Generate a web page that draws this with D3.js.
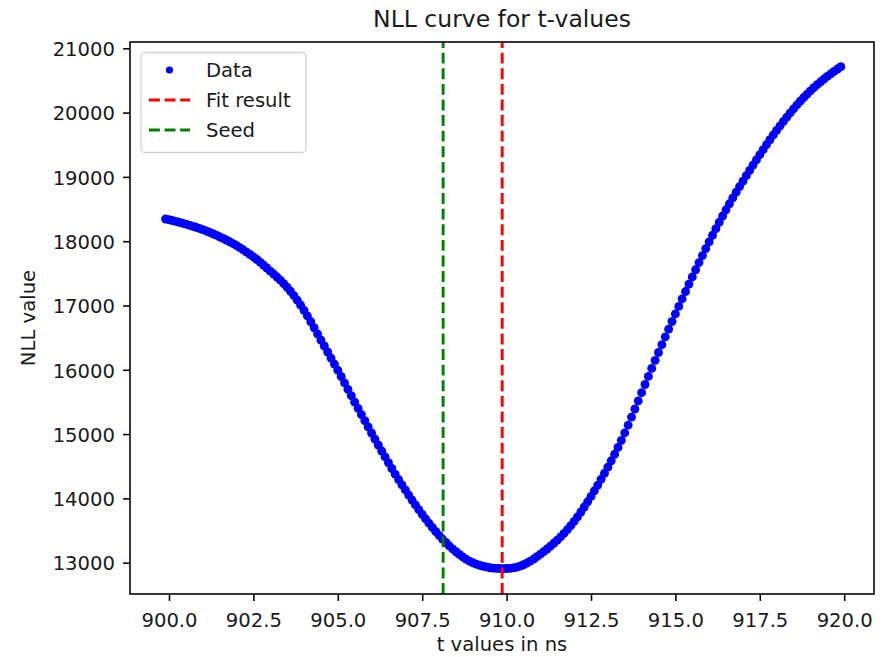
<!DOCTYPE html>
<html>
<head>
<meta charset="utf-8">
<script src="https://cdn.jsdelivr.net/npm/d3@7/dist/d3.min.js"></script>
<style>
  html, body { margin: 0; padding: 0; background: #ffffff; }
  svg { display: block; }
  text { font-family: "DejaVu Sans", sans-serif; fill: #1a1a1a; }
</style>
</head>
<body>
<svg id="chart" width="887" height="657"></svg>
<script>
// ---------------- data ----------------
const tValues = [
  899.9, 900.0, 900.1, 900.2, 900.3, 900.4, 900.5, 900.6, 900.7, 900.8, 900.9,
  901.0, 901.1, 901.2, 901.3, 901.4, 901.5, 901.6, 901.7, 901.8, 901.9,
  902.0, 902.1, 902.2, 902.3, 902.4, 902.5, 902.6, 902.7, 902.8, 902.9,
  903.0, 903.1, 903.2, 903.3, 903.4, 903.5, 903.6, 903.7, 903.8, 903.9,
  904.0, 904.1, 904.2, 904.3, 904.4, 904.5, 904.6, 904.7, 904.8, 904.9,
  905.0, 905.1, 905.2, 905.3, 905.4, 905.5, 905.6, 905.7, 905.8, 905.9,
  906.0, 906.1, 906.2, 906.3, 906.4, 906.5, 906.6, 906.7, 906.8, 906.9,
  907.0, 907.1, 907.2, 907.3, 907.4, 907.5, 907.6, 907.7, 907.8, 907.9,
  908.0, 908.1, 908.2, 908.3, 908.4, 908.5, 908.6, 908.7, 908.8, 908.9,
  909.0, 909.1, 909.2, 909.3, 909.4, 909.5, 909.6, 909.7, 909.8, 909.9,
  910.0, 910.1, 910.2, 910.3, 910.4, 910.5, 910.6, 910.7, 910.8, 910.9,
  911.0, 911.1, 911.2, 911.3, 911.4, 911.5, 911.6, 911.7, 911.8, 911.9,
  912.0, 912.1, 912.2, 912.3, 912.4, 912.5, 912.6, 912.7, 912.8, 912.9,
  913.0, 913.1, 913.2, 913.3, 913.4, 913.5, 913.6, 913.7, 913.8, 913.9,
  914.0, 914.1, 914.2, 914.3, 914.4, 914.5, 914.6, 914.7, 914.8, 914.9,
  915.0, 915.1, 915.2, 915.3, 915.4, 915.5, 915.6, 915.7, 915.8, 915.9,
  916.0, 916.1, 916.2, 916.3, 916.4, 916.5, 916.6, 916.7, 916.8, 916.9,
  917.0, 917.1, 917.2, 917.3, 917.4, 917.5, 917.6, 917.7, 917.8, 917.9,
  918.0, 918.1, 918.2, 918.3, 918.4, 918.5, 918.6, 918.7, 918.8, 918.9,
  919.0, 919.1, 919.2, 919.3, 919.4, 919.5, 919.6, 919.7, 919.8, 919.9
];

const nllValues = [
  18345, 18333, 18321, 18308, 18294, 18280, 18265, 18249, 18233, 18216, 18198,
  18179, 18159, 18138, 18116, 18093, 18069, 18044, 18018, 17991, 17962,
  17932, 17900, 17866, 17830, 17793, 17755, 17715, 17673, 17629, 17583,
  17534, 17489, 17442, 17393, 17340, 17283, 17221, 17154, 17082, 17005,
  16923, 16837, 16747, 16654, 16559, 16463, 16370, 16277, 16183, 16089,
  15994, 15896, 15797, 15697, 15597, 15497, 15400, 15304, 15208, 15112,
  15017, 14923, 14830, 14737, 14645, 14554, 14465, 14378, 14293, 14211,
  14132, 14052, 13974, 13898, 13824, 13752, 13682, 13614, 13548, 13485,
  13425, 13368, 13314, 13263, 13215, 13170, 13128, 13089, 13055, 13025,
  12999, 12977, 12959, 12945, 12934, 12922, 12915, 12911, 12909, 12908,
  12909, 12912, 12919, 12930, 12946, 12968, 12994, 13024, 13057, 13093,
  13132, 13172, 13213, 13256, 13302, 13350, 13401, 13455, 13513, 13575,
  13641, 13713, 13788, 13866, 13947, 14031, 14118, 14207, 14298, 14391,
  14486, 14585, 14686, 14792, 14903, 15019, 15140, 15264, 15390, 15517,
  15644, 15771, 15897, 16022, 16146, 16269, 16391, 16512, 16632, 16751,
  16869, 16986, 17102, 17217, 17331, 17444, 17556, 17667, 17776, 17883,
  17988, 18092, 18194, 18294, 18392, 18488, 18582, 18673, 18762, 18849,
  18934, 19019, 19102, 19184, 19265, 19345, 19424, 19502, 19578, 19652,
  19724, 19794, 19863, 19930, 19995, 20058, 20119, 20178, 20234, 20287,
  20338, 20387, 20434, 20479, 20522, 20563, 20602, 20640, 20677, 20713
];

const fitResult = 909.87;
const seedValue = 908.12;

const xTicks = [900, 902.5, 905, 907.5, 910, 912.5, 915, 917.5, 920];
const yTicks = [13000, 14000, 15000, 16000, 17000, 18000, 19000, 20000, 21000];

const legendLabels = ["Data", "Fit result", "Seed"];
const titleText = "NLL curve for t-values";
const xLabelText = "t values in ns";
const yLabelText = "NLL value";

// ---------------- layout ----------------
const svg = d3.select("#chart");
const L = 130, R = 874, T = 42, B = 594;
const FS = 19.6;
const DOT_R = 4.45;

const x = d3.scaleLinear().domain([898.845, 920.883]).range([L, R]);
const y = d3.scaleLinear().domain([12513, 21098]).range([B, T]);

const data = tValues.map((t, i) => ({ t: t, v: nllValues[i] }));

// data points
svg.append("g")
  .selectAll("circle")
  .data(data)
  .enter().append("circle")
  .attr("cx", d => x(d.t))
  .attr("cy", d => y(d.v))
  .attr("r", DOT_R)
  .attr("fill", "#0000ff");

// vertical lines (drawn bottom -> top, like matplotlib axvline)
const dash = "10.9,4.7";
function vline(val, color) {
  svg.append("line")
    .attr("x1", x(val)).attr("x2", x(val))
    .attr("y1", B).attr("y2", T)
    .attr("stroke", color)
    .attr("stroke-width", 2.9)
    .attr("stroke-dasharray", dash);
}
vline(fitResult, "#ff0000");
vline(seedValue, "#008000");

// axes
const xAxis = d3.axisBottom(x)
  .tickValues(xTicks)
  .tickFormat(d3.format(".1f"))
  .tickSizeInner(6.9).tickSizeOuter(0)
  .tickPadding(11.7);
const gx = svg.append("g").attr("transform", `translate(0,${B})`).call(xAxis);

const yAxis = d3.axisLeft(y)
  .tickValues(yTicks)
  .tickFormat(d3.format("d"))
  .tickSizeInner(6.9).tickSizeOuter(0)
  .tickPadding(8.1);
const gy = svg.append("g").attr("transform", `translate(${L},0)`).call(yAxis);

[gx, gy].forEach(g => {
  g.select(".domain").remove();
  g.selectAll(".tick line").attr("stroke", "#000").attr("stroke-width", 1.57);
  g.selectAll(".tick text")
    .attr("font-family", "DejaVu Sans")
    .attr("font-size", FS)
    .attr("fill", "#1a1a1a");
});
gy.selectAll(".tick text").attr("dy", "0.37em");

// frame
svg.append("rect")
  .attr("x", L).attr("y", T)
  .attr("width", R - L).attr("height", B - T)
  .attr("fill", "none")
  .attr("stroke", "#000")
  .attr("stroke-width", 1.57);

// title and labels
svg.append("text")
  .attr("x", (L + R) / 2).attr("y", 27)
  .attr("text-anchor", "middle")
  .attr("font-size", 23.5)
  .text(titleText);

svg.append("text")
  .attr("x", (L + R) / 2).attr("y", 651)
  .attr("text-anchor", "middle")
  .attr("font-size", FS)
  .text(xLabelText);

svg.append("text")
  .attr("transform", `translate(35,${(T + B) / 2}) rotate(-90)`)
  .attr("text-anchor", "middle")
  .attr("font-size", FS)
  .text(yLabelText);

// legend
const lg = svg.append("g");
lg.append("rect")
  .attr("x", 141).attr("y", 52.5)
  .attr("width", 165).attr("height", 100)
  .attr("rx", 4).attr("ry", 4)
  .attr("fill", "#ffffff").attr("fill-opacity", 0.8)
  .attr("stroke", "#d4d4d4").attr("stroke-width", 1.4);

const rowY = [70, 100, 130];
const hx0 = 149, hx1 = 190;

lg.append("circle")
  .attr("cx", (hx0 + hx1) / 2).attr("cy", rowY[0])
  .attr("r", 3.6).attr("fill", "#0000ff");

[["#ff0000", 1], ["#008000", 2]].forEach(([c, i]) => {
  lg.append("line")
    .attr("x1", hx0).attr("x2", hx1)
    .attr("y1", rowY[i]).attr("y2", rowY[i])
    .attr("stroke", c).attr("stroke-width", 2.9)
    .attr("stroke-dasharray", dash);
});

lg.selectAll("text.lbl")
  .data(legendLabels)
  .enter().append("text")
  .attr("class", "lbl")
  .attr("x", 206)
  .attr("y", (d, i) => rowY[i] + 7.1)
  .attr("font-size", FS)
  .text(d => d);
</script>
</body>
</html>
